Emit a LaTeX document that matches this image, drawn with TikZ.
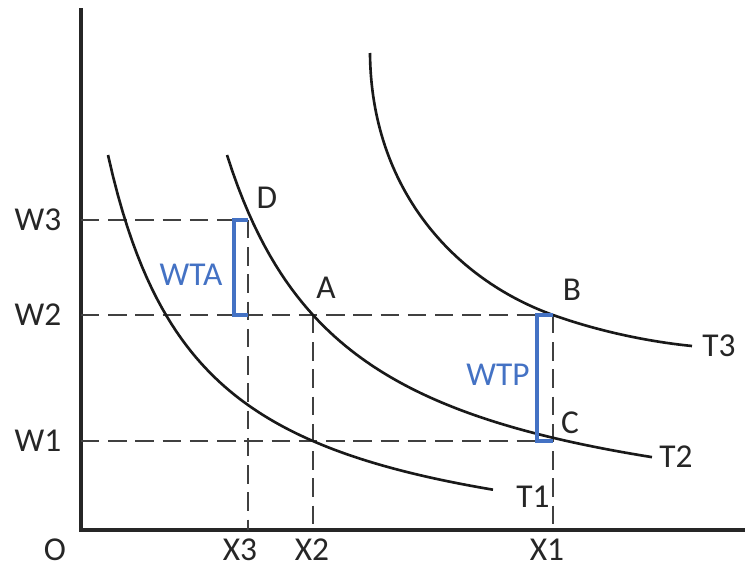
\documentclass[tikz,border=0pt]{standalone}
\usepackage{fontspec}
\setmainfont{Carlito}
\definecolor{gapblue}{HTML}{4472C4}
\tikzset{
  axisline/.style={line width=1.9pt, black!85},
  guide/.style={line width=1.2pt, black!75, dash pattern=on 10.5pt off 5pt},
  tcurve/.style={line width=1.5pt, black!90},
  gapbar/.style={line width=1.8pt, gapblue},
  lbl/.style={font=\fontsize{19}{19}\selectfont, inner sep=0pt, text=black!85},
  gaplbl/.style={lbl, text=gapblue},
}

\begin{document}
\begin{tikzpicture}[x=0.02cm, y=-0.02cm]
\useasboundingbox (0,0) rectangle (750,568);

% axes
\coordinate (top) at (81,8);
\coordinate (o) at (81,530);
\coordinate (right) at (745,530);
\draw[axisline] (top) -- (o) -- (right);

% points on the curves
\coordinate (D) at (248,220);
\coordinate (A) at (313,315);
\coordinate (B) at (553,315);
\coordinate (C) at (553,441);
\coordinate (w3) at (o |- D);
\coordinate (w2) at (o |- A);
\coordinate (w1) at (o |- C);
\coordinate (x3) at (D |- o);
\coordinate (x2) at (A |- o);
\coordinate (x1) at (B |- o);

% guide lines
\draw[guide] (w3) -- (D);
\draw[guide] (w2) -- (B);
\draw[guide] (w1) -- (C);
\draw[guide] (D) -- (x3);
\draw[guide] (A) -- (x2);
\draw[guide] (B) -- (x1);

% indifference curves
\draw[tcurve] plot[domain=108:493, samples=80] (\x, {570-383.46/((\x-15.6)/100)});
\draw[tcurve] plot[domain=227:652, samples=80] (\x, {545-482.04/((\x-103.4)/100)});
\draw[tcurve] (370,53) .. controls (371,188) and (453,279) .. (B)
  .. controls (598,331) and (647,341.5) .. (692,346);

% WTA / WTP brackets
\coordinate (dw) at (D |- A);
\draw[gapbar] (D) -- ++(-14,0) |- (dw);
\draw[gapbar] (B) -- ++(-16,0) |- (C);

% labels
\node[lbl] (lo) at (55,550) {O};
\node[lbl] (lw3) at (38,220) {W3};
\node[lbl] (lw2) at (38,315) {W2};
\node[lbl] (lw1) at (38,441) {W1};
\node[lbl] (lx3) at (240,550) {X3};
\node[lbl] (lx2) at (312,550) {X2};
\node[lbl] (lx1) at (547,550) {X1};
\node[lbl] (ld) at (267,198) {D};
\node[lbl] (la) at (326,288) {A};
\node[lbl] (lb) at (572,290) {B};
\node[lbl] (lc) at (570,423) {C};
\node[lbl] (lt1) at (533,497) {T1};
\node[lbl] (lt2) at (676,457) {T2};
\node[lbl] (lt3) at (719,346) {T3};
\node[gaplbl] (lwta) at (191,275) {WTA};
\node[gaplbl] (lwtp) at (498,375) {WTP};
\end{tikzpicture}
\end{document}
